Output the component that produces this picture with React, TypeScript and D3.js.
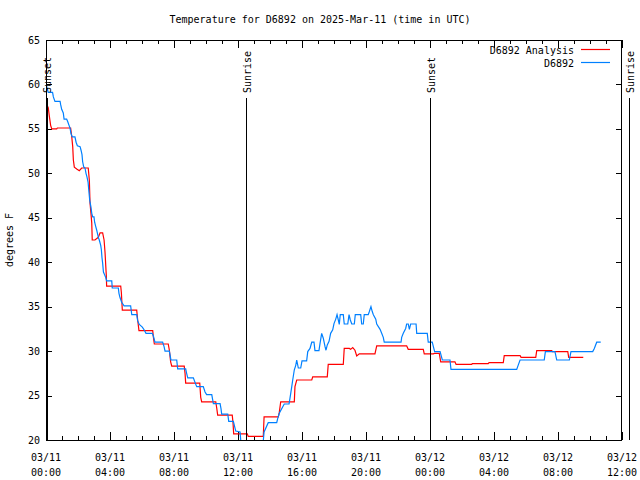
import React from 'react';
import * as d3 from 'd3';

// Observations (D6892): hours since 03/11 00:00 UTC, temperature °F
const obsHours = [0.00,0.06,0.14,0.41,0.46,0.56,0.88,0.92,0.98,1.08,1.13,1.29,1.36,1.44,1.50,1.56,1.64,1.81,1.88,1.96,2.13,2.19,2.25,2.29,2.36,2.44,2.50,2.56,2.63,2.69,2.73,2.81,2.86,2.92,3.00,3.04,3.11,3.17,3.27,3.33,3.42,3.46,3.50,3.54,3.59,3.73,3.79,4.11,4.14,4.52,4.56,4.63,4.73,4.88,5.29,5.36,5.67,5.73,5.83,6.02,6.13,6.25,6.64,6.71,6.81,7.29,7.38,7.44,7.71,7.81,8.17,8.23,8.73,8.79,8.86,9.21,9.33,9.42,9.83,9.94,10.04,10.36,10.46,10.88,10.94,10.98,11.36,11.42,11.71,11.79,11.86,12.13,12.19,13.56,13.63,13.89,14.42,14.48,14.58,14.89,15.19,15.25,15.36,15.42,15.52,15.61,15.67,15.77,15.92,16.00,16.29,16.36,16.50,16.61,16.75,16.81,17.06,17.13,17.23,17.33,17.44,17.50,17.58,17.69,17.79,17.92,18.00,18.11,18.19,18.27,18.33,18.39,18.58,18.64,18.86,18.94,19.02,19.11,19.27,19.33,19.67,19.73,19.83,19.89,20.14,20.21,20.31,20.39,20.46,20.61,20.67,20.88,20.98,21.08,21.14,22.19,22.23,22.33,22.48,22.54,22.64,22.71,22.79,23.13,23.17,23.83,23.89,24.14,24.21,24.29,24.63,24.69,24.77,25.25,25.31,29.42,29.52,29.63,31.14,31.21,31.81,31.92,32.71,32.81,34.17,34.27,34.42,34.67];
const obsTemps = [60.0,59.7,59.1,59.1,58.6,58.1,58.1,57.7,57.2,56.8,56.1,56.1,55.8,55.4,55.1,54.5,54.1,54.1,53.5,53.1,53.0,52.6,52.1,51.3,50.7,50.6,50.0,49.6,49.0,47.8,47.0,46.2,45.5,45.1,45.1,44.5,44.0,43.6,42.8,42.5,41.9,41.4,40.5,39.9,38.9,38.3,37.9,37.9,37.1,37.1,36.5,36.0,35.5,35.1,35.1,34.1,34.1,33.4,33.0,32.7,32.4,32.0,32.0,31.7,31.0,31.0,30.5,30.0,30.0,29.0,29.0,28.0,28.0,27.5,27.0,27.0,26.4,26.0,26.0,25.4,25.1,25.1,24.1,24.1,23.5,22.9,22.9,22.1,22.1,21.5,21.0,20.9,19.5,19.5,20.9,21.95,21.95,22.4,23.0,24.05,24.05,24.7,26.0,26.75,27.9,28.4,29.0,28.1,28.1,28.9,28.9,29.95,30.3,31.0,31.0,30.05,30.05,30.9,32.0,31.45,30.5,30.1,30.7,31.1,32.0,32.4,33.1,33.6,34.1,33.5,33.0,34.1,34.1,33.05,33.05,34.1,33.5,33.05,33.05,34.1,34.1,33.05,33.05,34.1,34.1,34.45,35.0,34.45,34.1,33.6,33.05,32.45,32.0,31.55,31.0,31.0,31.55,32.0,32.55,33.05,33.05,32.45,33.05,33.05,32.0,32.0,31.0,31.0,30.5,29.95,29.95,29.55,29.0,29.0,27.95,27.95,28.45,29.0,29.0,29.95,29.95,29.0,29.0,29.95,29.95,30.3,31.0,31.0];

// Analysis (D6892 Analysis)
const anaHours = [0.00,0.03,0.14,0.21,0.29,0.36,0.67,0.71,1.54,1.61,1.67,1.71,1.77,1.92,2.08,2.23,2.64,2.71,2.75,2.81,2.86,2.89,3.06,3.27,3.38,3.54,3.63,3.69,3.75,3.77,3.79,4.67,4.71,4.77,5.67,5.73,5.81,6.67,6.71,6.77,7.64,7.71,7.79,7.86,8.64,8.69,8.73,9.61,9.67,9.73,10.61,10.67,10.73,11.64,11.69,11.73,12.58,12.64,13.58,13.63,14.52,14.58,14.67,15.52,15.56,15.67,16.61,16.67,17.58,17.64,18.58,18.64,18.96,19.04,19.17,19.31,19.42,19.58,20.56,20.67,22.54,22.64,23.58,23.64,24.21,24.27,24.58,24.67,25.56,25.63,26.61,26.64,27.64,27.69,28.58,28.64,29.63,29.69,30.61,30.67,31.61,31.64,32.61,32.67,33.58];
const anaTemps = [57.9,57.8,57.4,56.4,55.4,55.0,55.0,55.1,55.1,54.1,53.0,51.5,50.7,50.5,50.3,50.6,50.6,49.2,46.7,45.5,44.4,42.5,42.5,42.8,43.3,43.3,42.5,41.1,39.1,38.5,37.3,37.3,36.6,34.6,34.6,33.5,32.3,32.3,31.6,30.8,30.8,30.1,28.8,28.3,28.3,27.5,26.4,26.4,24.8,24.3,24.3,23.6,22.8,22.8,21.9,20.7,20.7,20.4,20.4,22.6,22.6,23.1,24.3,24.3,26.0,26.75,26.75,27.1,27.1,28.5,28.5,30.3,30.3,30.2,30.4,30.1,29.45,29.7,29.7,30.6,30.6,30.2,30.2,29.7,29.7,29.75,29.75,28.8,28.8,28.5,28.5,28.6,28.6,28.7,28.7,29.5,29.5,29.3,29.3,30.05,30.05,29.95,29.95,29.3,29.3];

const sunHours = [0.04, 12.5, 24.0, 36.44];
const sunLabels = ['Sunset', 'Sunrise', 'Sunset', 'Sunrise'];

const xMajorHours = [0, 4, 8, 12, 16, 20, 24, 28, 32, 36];
const xDateLabels = ['03/11', '03/11', '03/11', '03/11', '03/11', '03/11', '03/12', '03/12', '03/12', '03/12'];
const xTimeLabels = ['00:00', '04:00', '08:00', '12:00', '16:00', '20:00', '00:00', '04:00', '08:00', '12:00'];
const yTickValues = [20, 25, 30, 35, 40, 45, 50, 55, 60, 65];

const seriesNames = ['D6892 Analysis', 'D6892'];
const seriesColors = ['#ff0000', '#0080ff'];

const FONT = '"DejaVu Sans Mono", "Liberation Mono", monospace';

export default function App() {
  const L = 46, R = 622, T = 40, B = 440;
  const x = d3.scaleLinear().domain([0, 36]).range([L, R]);
  const y = d3.scaleLinear().domain([20, 65]).range([B, T]);
  const line = d3.line<[number, number]>().x(d => x(d[0])).y(d => y(d[1]));
  const obs = obsHours.map((h, i) => [h, obsTemps[i]] as [number, number]);
  const ana = anaHours.map((h, i) => [h, anaTemps[i]] as [number, number]);
  const minorHours = d3.range(0, 37, 1).filter(h => h % 4 !== 0);

  return (
    <svg width={640} height={480} style={{ position: 'absolute', left: 0, top: 0, background: '#fff' }}
      fontFamily={FONT} fontSize={10}>
      <defs>
        <clipPath id="plot"><rect x={L} y={T} width={R - L} height={B - T} /></clipPath>
      </defs>
      <rect x={0} y={0} width={640} height={480} fill="#fff" />
      <text x={320} y={23} textAnchor="middle">Temperature for D6892 on 2025-Mar-11 (time in UTC)</text>
      {/* y ticks */}
      {yTickValues.map(v => (
        <g key={'y' + v}>
          <line x1={L} x2={L + 6} y1={Math.round(y(v)) + 0.5} y2={Math.round(y(v)) + 0.5} stroke="#000" />
          <line x1={R - 6} x2={R} y1={Math.round(y(v)) + 0.5} y2={Math.round(y(v)) + 0.5} stroke="#000" />
          <text x={40} y={y(v)} dy="0.35em" textAnchor="end">{v}</text>
        </g>
      ))}
      {/* x ticks */}
      {xMajorHours.map((h, i) => (
        <g key={'x' + h}>
          <line x1={Math.round(x(h)) + 0.5} x2={Math.round(x(h)) + 0.5} y1={B} y2={B - 8} stroke="#000" />
          <line x1={Math.round(x(h)) + 0.5} x2={Math.round(x(h)) + 0.5} y1={T} y2={T + 8} stroke="#000" />
          <text x={x(h)} y={461} textAnchor="middle">{xDateLabels[i]}</text>
          <text x={x(h)} y={476} textAnchor="middle">{xTimeLabels[i]}</text>
        </g>
      ))}
      {minorHours.map(h => (
        <g key={'m' + h}>
          <line x1={Math.round(x(h)) + 0.5} x2={Math.round(x(h)) + 0.5} y1={B} y2={B - 4} stroke="#000" />
          <line x1={Math.round(x(h)) + 0.5} x2={Math.round(x(h)) + 0.5} y1={T} y2={T + 4} stroke="#000" />
        </g>
      ))}
      <text transform={`translate(13,240) rotate(-90)`} textAnchor="middle">degrees F</text>
      {/* data */}
      <g clipPath="url(#plot)">
        <path d={line(ana) || ''} fill="none" stroke={seriesColors[0]} strokeWidth={1.2} />
        <path d={line(obs) || ''} fill="none" stroke={seriesColors[1]} strokeWidth={1.2} />
      </g>
      {/* sun events */}
      {sunHours.map((h, i) => (
        <g key={'s' + i}>
          <line x1={Math.round(x(h)) + 0.5} x2={Math.round(x(h)) + 0.5} y1={98} y2={B} stroke="#000" />
          <text transform={`translate(${x(h) + 1},93) rotate(-90)`} dy="0.35em" textAnchor="start">{sunLabels[i]}</text>
        </g>
      ))}
      {/* legend */}
      {seriesNames.map((n, i) => (
        <g key={'l' + i}>
          <text x={574} y={50 + i * 13} dy="0.35em" textAnchor="end">{n}</text>
          <line x1={581} x2={610} y1={49.5 + i * 13} y2={49.5 + i * 13} stroke={seriesColors[i]} strokeWidth={1.2} />
        </g>
      ))}
      <rect x={L + 0.5} y={T + 0.5} width={R - L - 1} height={B - T} fill="none" stroke="#000" />
    </svg>
  );
}
